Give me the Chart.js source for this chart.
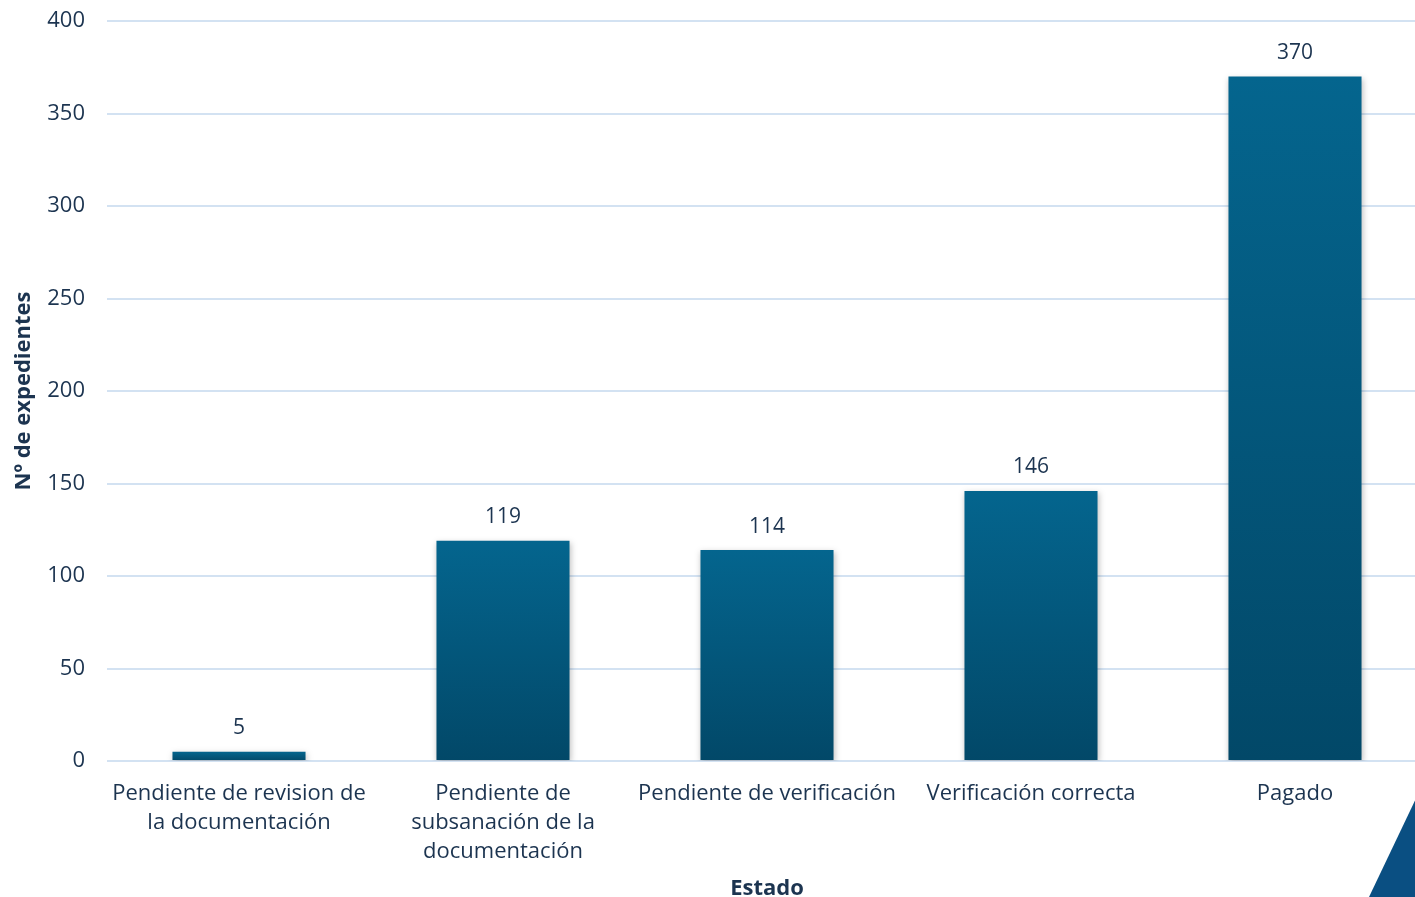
<!DOCTYPE html>
<html lang="es">
  <head>
    <meta charset="UTF-8" />
    <title>Nº de expedientes por estado</title>
    <script src="https://cdn.jsdelivr.net/npm/chart.js"></script>
    <style>
      html,
      body {
        margin: 0;
        padding: 0;
        background: #fff;
        overflow: hidden;
        width: 1415px;
        height: 897px;
      }
      .chart-container {
        position: absolute;
        left: 0;
        top: 0;
        width: 1427px;
        height: 897px;
      }
      .corner {
        position: absolute;
        left: 1360px;
        top: 790px;
        width: 60px;
        height: 107px;
        background: #0a4f82;
        clip-path: polygon(100% 0, 100% 100%, 15% 100%);
      }
    </style>
  </head>
  <body>
    <div class="chart-container">
      <canvas id="estadoChart"></canvas>
    </div>
    <div class="corner"></div>

    <script>
      const categories = [
        ["Pendiente de revision de", "la documentación"],
        ["Pendiente de", "subsanación de la", "documentación"],
        "Pendiente de verificación",
        "Verificación correcta",
        "Pagado",
      ];
      const expedientes = [5, 119, 114, 146, 370];
      const yTicks = [0, 50, 100, 150, 200, 250, 300, 350, 400];

      const textColor = "#1c3450";
      const fontFamily = "'Open Sans', 'Noto Sans', sans-serif";

      function barGradient(context) {
        const chart = context.chart;
        if (!chart.chartArea || context.type !== "data") return "#035a80";
        const y = chart.scales.y;
        const top = y.getPixelForValue(context.raw);
        const bottom = y.getPixelForValue(0);
        if (!isFinite(top) || bottom - top < 1) return "#04638c";
        const g = chart.ctx.createLinearGradient(0, top, 0, bottom);
        g.addColorStop(0, "#04658e");
        g.addColorStop(1, "#024868");
        return g;
      }

      // soft shadow behind the bars
      const barShadow = {
        id: "barShadow",
        beforeDatasetsDraw(chart) {
          const ctx = chart.ctx;
          ctx.save();
          ctx.shadowColor = "rgba(0, 0, 0, 0.25)";
          ctx.shadowBlur = 6;
          ctx.shadowOffsetX = 1;
          ctx.shadowOffsetY = 2;
        },
        afterDatasetsDraw(chart) {
          chart.ctx.restore();
        },
      };

      // value labels above each bar
      const valueLabels = {
        id: "valueLabels",
        afterDatasetsDraw(chart) {
          const ctx = chart.ctx;
          const meta = chart.getDatasetMeta(0);
          ctx.save();
          ctx.fillStyle = textColor;
          ctx.font = "21px " + fontFamily;
          ctx.textAlign = "center";
          ctx.textBaseline = "bottom";
          meta.data.forEach((bar, i) => {
            ctx.fillText(expedientes[i], bar.x, bar.y - 13);
          });
          ctx.restore();
        },
      };

      const ctx = document.getElementById("estadoChart").getContext("2d");
      new Chart(ctx, {
        type: "bar",
        data: {
          labels: categories,
          datasets: [
            {
              label: "Nº de expedientes",
              data: expedientes,
              backgroundColor: barGradient,
              borderWidth: 0,
              barPercentage: 1,
              categoryPercentage: 0.504,
            },
          ],
        },
        options: {
          responsive: true,
          maintainAspectRatio: false,
          animation: false,
          layout: {
            padding: { top: 21, right: 0, left: 0, bottom: 0 },
          },
          plugins: {
            legend: { display: false },
            tooltip: { enabled: false },
          },
          scales: {
            y: {
              min: 0,
              max: 400,
              afterBuildTicks(axis) {
                axis.ticks = yTicks.map((v) => ({ value: v }));
              },
              afterFit(axis) {
                axis.width = 107;
                axis.paddingTop = 0;
                axis.paddingBottom = 0;
              },
              grid: {
                color: "#d3e2f2",
                lineWidth: 2,
                drawTicks: false,
              },
              border: { display: false },
              ticks: {
                color: textColor,
                font: { size: 22, family: fontFamily },
                padding: 22,
              },
              title: {
                display: true,
                text: "Nº de expedientes",
                color: textColor,
                font: { size: 22, weight: "bold", family: fontFamily, lineHeight: 1 },
                padding: { top: 13, bottom: 0 },
              },
            },
            x: {
              afterFit(axis) {
                axis.height = 136;
                axis.paddingLeft = 0;
                axis.paddingRight = 0;
              },
              grid: { display: false },
              border: { display: false },
              ticks: {
                color: textColor,
                font: { size: 22, family: fontFamily, lineHeight: 1.32 },
                padding: 10,
                maxRotation: 0,
                autoSkip: false,
              },
              title: {
                display: true,
                text: "Estado",
                color: textColor,
                font: { size: 22, weight: "bold", family: fontFamily, lineHeight: 1 },
                padding: { top: 0, bottom: -3 },
              },
            },
          },
        },
        plugins: [barShadow, valueLabels],
      });
    </script>
  </body>
</html>
